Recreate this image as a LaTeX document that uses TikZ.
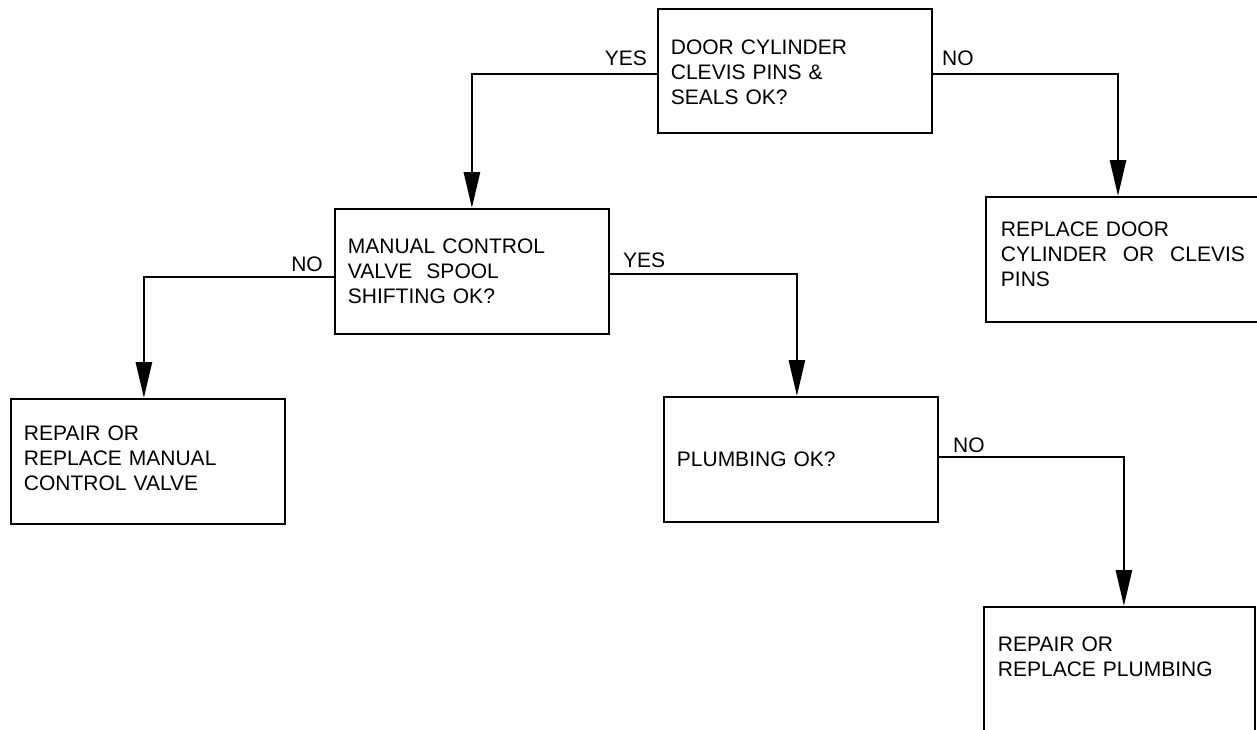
\documentclass[tikz,border=0pt]{standalone}
\usepackage{fontspec}
\setmainfont{Liberation Sans}
\usetikzlibrary{arrows.meta}

\begin{document}
\begin{tikzpicture}[x=1pt, y=-1pt,
  stepbox/.style={draw, line width=1.8pt, anchor=north west,
    inner xsep=13pt, inner ysep=0pt, text width=248pt, align=left,
    font=\fontsize{21}{25}\selectfont},
  conn/.style={line width=2.8pt, -{Triangle[length=36pt, width=16pt]}},
  lbl/.style={inner sep=0pt, font=\fontsize{21}{25}\selectfont}]
  \useasboundingbox (0,0) rectangle (1257,729);
  \clip (0,0) rectangle (1257,729);

  % decision boxes
  \node[stepbox, text height=46pt, text depth=78pt] (q1) at (657,8)
    {DOOR CYLINDER\\CLEVIS PINS \&\\SEALS OK?};
  \node[stepbox, text height=45pt, text depth=80pt] (q2) at (334,208)
    {MANUAL CONTROL\\VALVE\hspace{7pt} SPOOL\\SHIFTING OK?};
  \node[stepbox, text height=70pt, text depth=55pt] (p) at (663,396)
    {PLUMBING OK?};

  % action boxes
  \node[stepbox, inner xsep=15pt, text width=260pt,
        text height=40pt, text depth=85pt] (r1) at (985,196)
    {REPLACE DOOR\\\makebox[244pt][l]{CYLINDER\hfill OR\hfill CLEVIS}\\PINS};
  \node[stepbox, text height=42pt, text depth=83pt] (r2) at (10,398)
    {REPAIR OR\\REPLACE MANUAL\\CONTROL VALVE};
  \node[stepbox, inner xsep=14pt, text width=243pt,
        text height=45pt, text depth=100pt] (r3) at (983,606)
    {REPAIR OR\\REPLACE PLUMBING};

  % connectors
  \draw[conn] ([yshift=-3pt]q1.west) -| (q2.north);
  \draw[conn] ([yshift=-3pt]q1.east) -| ([xshift=133pt]r1.north west);
  \draw[conn] ([yshift=-2.5pt]q2.east) -| ([xshift=-4pt]p.north);
  \draw[conn] ([yshift=-5.5pt]q2.west) -| ([xshift=-4pt]r2.north);
  \draw[conn] ([yshift=2.5pt]p.east) -| ([xshift=4.5pt]r3.north);

  % branch labels
  \node[lbl, anchor=base east] (l1) at (647,65) {YES};
  \node[lbl, anchor=base west] (l2) at (942,65) {NO};
  \node[lbl, anchor=base west] (l3) at (623,267) {YES};
  \node[lbl, anchor=base east] (l4) at (323,271) {NO};
  \node[lbl, anchor=base west] (l5) at (953,452) {NO};
\end{tikzpicture}
\end{document}
